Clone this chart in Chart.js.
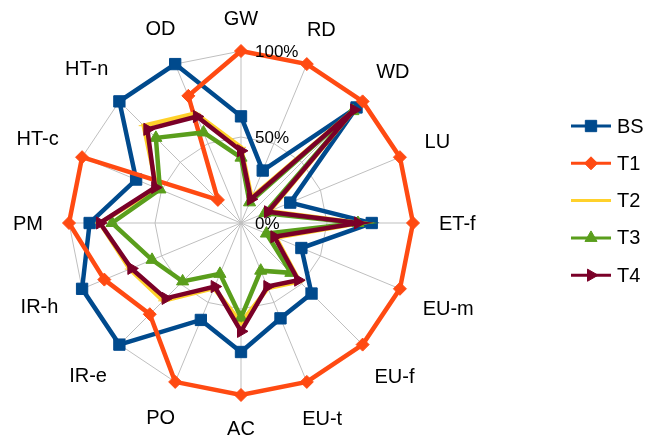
<!DOCTYPE html>
<html>
<head>
<meta charset="utf-8">
<script src="https://cdn.jsdelivr.net/npm/chart.js@4/dist/chart.umd.min.js"></script>
<style>
  html, body { margin: 0; padding: 0; background: #ffffff; }
  #wrap { width: 656px; height: 440px; position: relative; }
</style>
</head>
<body>
<div id="wrap"><canvas id="radar" width="656" height="440"></canvas></div>
<script>
// Impact categories around the radar, clockwise from the top
const categories = ['GW', 'RD', 'WD', 'LU', 'ET-f', 'EU-m', 'EU-f', 'EU-t', 'AC', 'PO', 'IR-e', 'IR-h', 'PM', 'HT-c', 'HT-n', 'OD'];

// Relative scores (%) per scenario
const bsValues = [62, 33, 95, 31, 76, 38, 58, 60, 75, 61, 100, 100, 88, 66, 100, 100];
const t1Values = [100, 100, 100, 100, 100, 100, 100, 100, 100, 100, 75, 86, 100, 100, 19, 80];
const t2Values = [44, 16, 93, 18, 69, 22, 48, 41, 58, 41, 64, 70, 82, 53, 80, 69];
const t3Values = [38, 13, 92, 15, 68, 16, 41, 30, 55, 32, 48, 56, 75, 51, 70, 57];
const t4Values = [42, 15, 93, 17, 68, 21, 47, 40, 63, 40, 62, 69, 82, 54, 77, 67];

const seriesNames = ['BS', 'T1', 'T2', 'T3', 'T4'];
const tickValues = [0, 50, 100];

const FONT = "'Liberation Sans', Arial, sans-serif";

function series(label, data, color, style, radius, rotation, order) {
  return {
    label, data, order,
    borderColor: color,
    backgroundColor: color,
    pointBackgroundColor: color,
    pointBorderColor: color,
    pointBorderWidth: 1,
    borderWidth: 4.5,
    fill: false,
    tension: 0,
    pointStyle: style,
    pointRadius: radius,
    pointHoverRadius: radius,
    pointRotation: rotation
  };
}

// Legend with a short line and the series marker in its middle
const lineLegend = {
  id: 'lineLegend',
  afterDraw(chart, args, opts) {
    const ctx = chart.ctx;
    chart.data.datasets.forEach((ds, i) => {
      const y = opts.top + i * opts.gap;
      ctx.save();
      ctx.strokeStyle = ds.borderColor;
      ctx.lineWidth = opts.lineWidth;
      ctx.beginPath();
      ctx.moveTo(opts.x0, y);
      ctx.lineTo(opts.x1, y);
      ctx.stroke();
      ctx.fillStyle = ds.pointBackgroundColor;
      ctx.strokeStyle = ds.pointBorderColor;
      ctx.lineWidth = 1;
      Chart.helpers.drawPoint(ctx, {
        pointStyle: ds.pointStyle,
        radius: ds.pointRadius,
        rotation: ds.pointRotation || 0,
        borderWidth: 1
      }, (opts.x0 + opts.x1) / 2, y);
      ctx.fillStyle = '#000000';
      ctx.font = opts.font;
      ctx.textAlign = 'left';
      ctx.textBaseline = 'middle';
      ctx.fillText(ds.label, opts.textX, y + 1);
      ctx.restore();
    });
  }
};

// Percentage labels placed just right of the vertical axis
const tickText = {
  id: 'tickText',
  afterDraw(chart, args, opts) {
    const s = chart.scales.r;
    const ctx = chart.ctx;
    ctx.save();
    ctx.fillStyle = '#000000';
    ctx.font = opts.font;
    ctx.textAlign = 'left';
    ctx.textBaseline = 'middle';
    tickValues.forEach(v => {
      const y = s.yCenter - s.getDistanceFromCenterForValue(v);
      ctx.fillText(v + '%', s.xCenter + opts.dx, y + opts.dy);
    });
    ctx.restore();
  }
};

// Category names centred just outside the outer ring, pushed out by their own half-size
const axisLabels = {
  id: 'axisLabels',
  afterDraw(chart, args, opts) {
    const s = chart.scales.r;
    const ctx = chart.ctx;
    ctx.save();
    ctx.fillStyle = '#000000';
    ctx.font = opts.font;
    ctx.textAlign = 'center';
    ctx.textBaseline = 'middle';
    categories.forEach((name, i) => {
      const w = ctx.measureText(name).width;
      const a = s.getIndexAngle(i);
      const d = s.drawingArea + opts.gap +
        Math.abs(Math.sin(a)) * w / 2 + Math.abs(Math.cos(a)) * opts.halfHeight;
      const p = s.getPointPosition(i, d);
      ctx.fillText(name, p.x, p.y + 1);
    });
    ctx.restore();
  }
};

new Chart(document.getElementById('radar'), {
  type: 'radar',
  data: {
    labels: categories,
    datasets: [
      series(seriesNames[0], bsValues, '#004A8D', 'rect', 8, 0, 5),
      series(seriesNames[1], t1Values, '#FF4A12', 'rectRot', 6.5, 0, 4),
      series(seriesNames[2], t2Values, '#FFD12B', 'line', 5, 0, 3),
      series(seriesNames[3], t3Values, '#5A9E1C', 'triangle', 7, 0, 2),
      series(seriesNames[4], t4Values, '#7A0028', 'triangle', 7, 90, 1)
    ]
  },
  options: {
    responsive: false,
    animation: false,
    devicePixelRatio: 1,
    layout: { padding: { left: 69, right: 243, top: 51, bottom: 45 } },
    plugins: {
      legend: { display: false },
      tooltip: { enabled: false },
      lineLegend: { x0: 571, x1: 611, textX: 617, top: 126, gap: 37.3, lineWidth: 3, font: '20px ' + FONT },
      tickText: { dx: 14, dy: 1, font: '17px ' + FONT },
      axisLabels: { gap: 26, halfHeight: 7, font: '20px ' + FONT }
    },
    scales: {
      r: {
        min: 0,
        max: 100,
        beginAtZero: true,
        ticks: { display: false, stepSize: 50 },
        grid: { color: '#BFBFBF', lineWidth: 1, circular: false },
        angleLines: { color: '#BFBFBF', lineWidth: 1 },
        pointLabels: { display: false }
      }
    }
  },
  plugins: [lineLegend, tickText, axisLabels]
});
</script>
</body>
</html>
